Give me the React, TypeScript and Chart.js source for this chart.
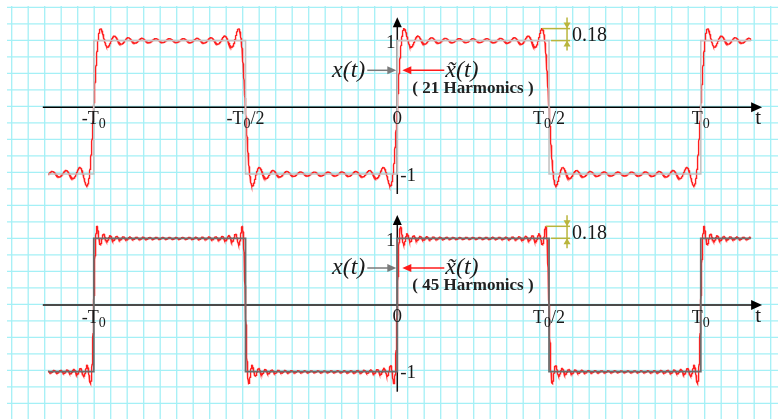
import React, { useEffect, useRef } from "react";
import { Chart, registerables } from "chart.js";

Chart.register(...registerables);

// Square wave of period T0 = 1: +1 on (0, T0/2), -1 on (T0/2, T0)
const period = 1;
const highLevel = 1;
const lowLevel = -1;
const jumpTimes = [-1, -0.5, 0, 0.5, 1];
const timeStart = -1.15;
const timeEnd = 1.165;

// Highest harmonic kept in each truncated Fourier series (upper, lower panel)
const harmonicCounts = [21, 45];
const gibbsOvershoot = 0.18;

// Tick labels on the time axis ("_" marks a subscript character)
const topTickValues = [-1, -0.5, 0.5, 1];
const topTickLabels = ["-T_0", "-T_0/2", "T_0/2", "T_0"];
const bottomTickValues = [-1, 0.5, 1];
const bottomTickLabels = ["-T_0", "T_0/2", "T_0"];
const levelTickValues = [1, 0, -1];
const levelTickLabels = ["1", "0", "-1"];

// Axis extents (time units / amplitude units)
const axisTimeStart = -1.168;
const axisTimeEnd = 1.202;
const axisLevelLow = -1.3;
const axisLevelHigh = 1.35;

const W = 778;
const H = 419;
const SERIF = '"Liberation Serif", "Times New Roman", serif';

function squareValue(t: number) {
  const ph = ((t % period) + period) % period;
  return ph < period / 2 ? highLevel : lowLevel;
}

function squarePoints() {
  const pts = [{ x: timeStart, y: squareValue(timeStart) }];
  for (const j of jumpTimes) {
    pts.push({ x: j, y: squareValue(j - 1e-6) });
    pts.push({ x: j, y: squareValue(j + 1e-6) });
  }
  pts.push({ x: timeEnd, y: squareValue(timeEnd) });
  return pts;
}

// Truncated Fourier series of the square wave (odd harmonics up to n)
function partialSum(t: number, n: number) {
  const amp = (highLevel - lowLevel) / 2;
  let s = 0;
  for (let k = 1; k <= n; k += 2) s += Math.sin((2 * Math.PI * k * t) / period) / k;
  return (4 * amp * s) / Math.PI;
}

function fourierPoints(n: number) {
  const pts: { x: number; y: number }[] = [];
  const step = 0.0004;
  for (let t = timeStart; t <= timeEnd + 1e-9; t += step) {
    pts.push({ x: t, y: partialSum(t, n) });
  }
  return pts;
}

const panels = [
  {
    axisId: "yTop",
    harmonics: harmonicCounts[0],
    tickValues: topTickValues,
    tickLabels: topTickLabels,
    axisColor: "#000000",
    axisWidth: 1.5,
    tickBaseline: 17,
  },
  {
    axisId: "yBot",
    harmonics: harmonicCounts[1],
    tickValues: bottomTickValues,
    tickLabels: bottomTickLabels,
    axisColor: "#4a4a4a",
    axisWidth: 2,
    tickBaseline: 18,
  },
];

function drawSubLabel(ctx: CanvasRenderingContext2D, text: string, cx: number, baseline: number, size: number) {
  const idx = text.indexOf("_");
  const pre = idx >= 0 ? text.slice(0, idx) : text;
  const sub = idx >= 0 ? text.charAt(idx + 1) : "";
  const post = idx >= 0 ? text.slice(idx + 2) : "";
  const mainFont = `${size}px ${SERIF}`;
  const subFont = `${Math.round(size * 0.8)}px ${SERIF}`;
  ctx.font = mainFont;
  const w1 = ctx.measureText(pre).width;
  const w3 = ctx.measureText(post).width;
  ctx.font = subFont;
  const w2 = ctx.measureText(sub).width;
  let x = cx - (w1 + w2 + w3) / 2;
  ctx.textAlign = "left";
  ctx.textBaseline = "alphabetic";
  ctx.font = mainFont;
  ctx.fillText(pre, x, baseline);
  x += w1;
  ctx.font = subFont;
  ctx.fillText(sub, x, baseline + 4);
  x += w2;
  ctx.font = mainFont;
  ctx.fillText(post, x, baseline);
}

function arrowHead(ctx: CanvasRenderingContext2D, tipX: number, tipY: number, dx: number, dy: number, len: number, half: number) {
  // (dx, dy) is the unit direction the arrow points to
  const bx = tipX - dx * len;
  const by = tipY - dy * len;
  ctx.beginPath();
  ctx.moveTo(tipX, tipY);
  ctx.lineTo(bx - dy * half, by + dx * half);
  ctx.lineTo(bx + dy * half, by - dx * half);
  ctx.closePath();
  ctx.fill();
}

function line(ctx: CanvasRenderingContext2D, x1: number, y1: number, x2: number, y2: number) {
  ctx.beginPath();
  ctx.moveTo(x1, y1);
  ctx.lineTo(x2, y2);
  ctx.stroke();
}

// Graph-paper background
const paperPlugin = {
  id: "paper",
  beforeDraw(chart: any) {
    const { ctx, width, height } = chart;
    const step = 16.5;
    ctx.save();
    ctx.fillStyle = "#ffffff";
    ctx.fillRect(0, 0, width, height);
    ctx.strokeStyle = "#a4f0f6";
    ctx.lineWidth = 1.3;
    for (let x = 11.7; x < width; x += step) line(ctx, x, 6, x, height);
    for (let y = 7.3; y < height; y += step) line(ctx, 7, y, width, y);
    ctx.restore();
  },
};

// Coordinate axes with arrowheads
const axesPlugin = {
  id: "axes",
  beforeDatasetsDraw(chart: any) {
    const { ctx } = chart;
    const xs = chart.scales.x;
    ctx.save();
    for (const p of panels) {
      const ys = chart.scales[p.axisId];
      const ox = xs.getPixelForValue(0);
      const oy = ys.getPixelForValue(0);
      ctx.strokeStyle = p.axisColor;
      ctx.fillStyle = "#000";
      ctx.lineWidth = p.axisWidth;
      const xEnd = xs.getPixelForValue(axisTimeEnd);
      line(ctx, xs.getPixelForValue(axisTimeStart), oy, xEnd - 6, oy);
      arrowHead(ctx, xEnd, oy, 1, 0, 11, 5);
      ctx.strokeStyle = "#111";
      ctx.lineWidth = 1.5;
      const yTip = ys.getPixelForValue(axisLevelHigh);
      line(ctx, ox, ys.getPixelForValue(axisLevelLow), ox, yTip + 6);
      arrowHead(ctx, ox, yTip, 0, -1, 10, 4.5);
    }
    ctx.restore();
  },
};

// Tick labels, signal names and the overshoot dimension
const labelPlugin = {
  id: "labels",
  afterDatasetsDraw(chart: any) {
    const { ctx } = chart;
    const xs = chart.scales.x;
    ctx.save();
    for (const p of panels) {
      const ys = chart.scales[p.axisId];
      const ox = xs.getPixelForValue(0);
      const oy = ys.getPixelForValue(0);
      ctx.fillStyle = "#1a1a1a";

      // time ticks
      p.tickValues.forEach((v, i) => {
        drawSubLabel(ctx, p.tickLabels[i], xs.getPixelForValue(v), oy + p.tickBaseline, 18);
      });
      // "t" at the end of the time axis
      ctx.font = `21px ${SERIF}`;
      ctx.textAlign = "center";
      ctx.textBaseline = "alphabetic";
      ctx.fillText("t", xs.getPixelForValue(axisTimeEnd) - 4, oy + 17);

      // level ticks
      ctx.font = `19px ${SERIF}`;
      levelTickValues.forEach((v, i) => {
        const y = ys.getPixelForValue(v);
        const lbl = levelTickLabels[i];
        if (v > 0) {
          ctx.textAlign = "center";
          ctx.fillText(lbl, ox - 6.5, y + 7.5);
        } else if (v < 0) {
          ctx.textAlign = "left";
          ctx.fillText(lbl, ox + 3, y + 6.5);
        } else {
          ctx.textAlign = "center";
          ctx.fillText(lbl, ox, oy + 16.5);
        }
      });

      // signal names with arrows
      const ny = oy - 37;
      ctx.font = `italic 24px ${SERIF}`;
      ctx.textAlign = "right";
      ctx.textBaseline = "middle";
      ctx.fillText("x(t)", ox - 32, ny);
      ctx.strokeStyle = "#7a7a7a";
      ctx.fillStyle = "#7a7a7a";
      ctx.lineWidth = 1.5;
      line(ctx, ox - 30, ny, ox - 8, ny);
      arrowHead(ctx, ox - 1, ny, 1, 0, 9, 4);

      ctx.strokeStyle = "#ff1a1a";
      ctx.fillStyle = "#ff1a1a";
      line(ctx, ox + 47, ny, ox + 12, ny);
      arrowHead(ctx, ox + 5, ny, -1, 0, 9, 4);

      ctx.fillStyle = "#1a1a1a";
      ctx.font = `italic 24px ${SERIF}`;
      ctx.textAlign = "left";
      ctx.fillText("x\u0303(t)", ox + 48, ny);

      ctx.font = `bold 17px ${SERIF}`;
      ctx.fillStyle = "#222";
      ctx.fillText(`( ${p.harmonics} Harmonics )`, ox + 15, oy - 19);

      // overshoot dimension at the T0/2 jump
      const xh = xs.getPixelForValue(period / 2);
      const xPeak = xs.getPixelForValue(period / 2 - period / (2 * (p.harmonics + 1)));
      const yPeak = ys.getPixelForValue(highLevel + gibbsOvershoot);
      const yHigh = ys.getPixelForValue(highLevel);
      ctx.strokeStyle = "#b9b53c";
      ctx.fillStyle = "#b9b53c";
      ctx.lineWidth = 1.5;
      line(ctx, xPeak, yPeak, xh + 21, yPeak);
      line(ctx, xh + 2, yHigh, xh + 21, yHigh);
      const vx = xh + 18;
      line(ctx, vx, yPeak - 11, vx, yHigh + 10);
      arrowHead(ctx, vx, yPeak, 0, 1, 6, 3.5);
      arrowHead(ctx, vx, yHigh, 0, -1, 6, 3.5);
      ctx.fillStyle = "#1a1a1a";
      ctx.font = `20px ${SERIF}`;
      ctx.textAlign = "left";
      ctx.textBaseline = "middle";
      ctx.fillText(String(gibbsOvershoot), xh + 23, (yPeak + yHigh) / 2 + 1);
    }
    ctx.restore();
  },
};

export default function App() {
  const ref = useRef<HTMLCanvasElement | null>(null);

  useEffect(() => {
    if (!ref.current) return;
    const square = squarePoints();
    const chart = new Chart(ref.current, {
      type: "line",
      data: {
        datasets: [
          {
            data: square,
            yAxisID: "yTop",
            borderColor: "#c4c4c4",
            borderWidth: 1.6,
            pointRadius: 0,
            tension: 0,
          },
          {
            data: fourierPoints(harmonicCounts[0]),
            yAxisID: "yTop",
            borderColor: "#ff1f1f",
            borderWidth: 1.4,
            pointRadius: 0,
            tension: 0,
          },
          {
            data: square,
            yAxisID: "yBot",
            borderColor: "#6c6c6c",
            borderWidth: 1.8,
            pointRadius: 0,
            tension: 0,
          },
          {
            data: fourierPoints(harmonicCounts[1]),
            yAxisID: "yBot",
            borderColor: "#ff1f1f",
            borderWidth: 1.4,
            pointRadius: 0,
            tension: 0,
          },
        ],
      },
      options: {
        animation: false,
        responsive: false,
        devicePixelRatio: 1,
        parsing: false,
        normalized: true,
        spanGaps: true,
        layout: { padding: 0 },
        plugins: { legend: { display: false }, tooltip: { enabled: false } },
        events: [],
        scales: {
          x: { type: "linear", min: -1.309, max: 1.2544, display: false },
          yTop: { type: "linear", min: -4.673, max: 1.6087, display: false },
          yBot: { type: "linear", min: -1.709, max: 4.5727, display: false },
        },
      },
      plugins: [paperPlugin, axesPlugin, labelPlugin],
    });
    return () => chart.destroy();
  }, []);

  return (
    <div style={{ position: "fixed", left: 0, top: 0, width: W, height: H, background: "#fff" }}>
      <canvas ref={ref} width={W} height={H} style={{ display: "block", width: W, height: H }} />
    </div>
  );
}
